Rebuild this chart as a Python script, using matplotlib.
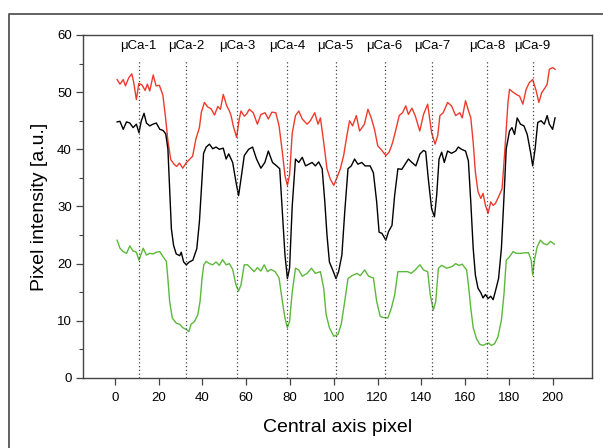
import matplotlib
matplotlib.use('Agg')
from matplotlib import pyplot as plt
from matplotlib.lines import Line2D
from matplotlib.ticker import MultipleLocator

plt.rcParams['font.family'] = ['Liberation Sans', 'DejaVu Sans']

# red (top), black (middle), green (bottom) profiles
red_x = [1, 2.3, 3.8, 4.8, 6.3, 7.7, 8.5, 9.8, 10.9, 12.3, 13.8, 14.8, 15.9, 17.5, 18.8, 20.3,
         21.9, 23.2, 24.2, 25.5, 27, 28.2, 29.5, 31, 32.5, 34, 35.5, 37, 38.6, 39.5, 40.9, 42.4,
         43.9, 45.5, 47, 48.2, 49.5, 51.1, 52.2, 53, 54.2, 55.6, 56.8, 57.6, 59.1, 60.2, 61.4,
         63.2, 65.1, 66.7, 68.6, 70.1, 71.7, 73.5, 75, 76.5, 77.7, 78.8, 79.8, 81, 82.5, 84,
         85.6, 87.8, 89.3, 91.3, 92.8, 93.9, 95.4, 96.9, 98.4, 100, 101.5, 103, 104.5, 106,
         107.2, 108.6, 110.3, 111.8, 114, 115.6, 117.1, 118.6, 120.1, 121.6, 123.8, 125.3,
         126.9, 128.4, 129.9, 131.4, 132.9, 134.1, 135.7, 137.2, 139.3, 141, 142.9, 144.7,
         146.3, 147.5, 148.5, 150, 152, 153.8, 155.7, 157.6, 158.7, 160.2, 161.5, 162.6,
         163.7, 164.7, 165.9, 167.2, 168.2, 169.3, 170.5, 171.7, 172.8, 173.8, 175.3, 176.9,
         178.1, 179.6, 180.3, 181.9, 183.4, 184.9, 186.4, 187.9, 189.4, 190.9, 192.5, 193.7,
         195, 196.6, 197.5, 198.5, 200, 201.1]
red_y = [52.2, 51.4, 52.2, 51.1, 52.5, 53.2, 51.9, 48.7, 51.5, 51.3, 50.3, 51.4, 50.2, 53.0,
         51.1, 51.2, 49.5, 45.3, 41.5, 38.2, 37.4, 37.0, 37.6, 36.7, 37.6, 38.2, 38.8, 41.8,
         43.8, 46.5, 48.2, 47.4, 47.1, 46.0, 47.5, 47.0, 49.6, 47.6, 46.8, 46.0, 43.9, 42.1,
         45.3, 46.7, 45.8, 46.2, 47.0, 46.4, 44.4, 46.1, 46.4, 45.3, 46.5, 46.4, 44.1, 39.5,
         35.4, 33.7, 35.5, 42.8, 45.9, 46.7, 45.3, 44.4, 45.0, 46.4, 44.4, 45.5, 41.2, 36.6,
         34.8, 33.7, 35.1, 36.6, 38.9, 42.4, 45.0, 44.1, 45.9, 43.2, 44.4, 47.0, 45.5, 43.5,
         40.6, 40.0, 38.9, 39.5, 41.2, 43.5, 45.9, 46.4, 47.6, 46.1, 47.2, 45.9, 43.2, 46.1,
         47.9, 42.9, 40.9, 42.4, 45.9, 46.4, 48.2, 47.6, 45.9, 46.4, 45.5, 48.5, 46.8, 45.5,
         41.2, 36.0, 32.6, 31.4, 32.3, 30.2, 28.8, 30.8, 30.2, 30.5, 31.7, 33.1, 39.5, 48.2,
         50.5, 50.0, 49.6, 49.3, 47.9, 50.5, 51.7, 52.2, 50.2, 48.2, 49.9, 50.8, 51.4, 54.0,
         54.3, 54.0]

black_x = [1, 2.3, 3.8, 5.3, 6.8, 8.3, 9.8, 11, 12, 13.3, 14.4, 15.9, 17.4, 18.9, 20.5, 22,
           23.2, 24.2, 25, 25.8, 26.8, 28, 29.6, 30.3, 31.4, 32.6, 34, 35.6, 37.4, 38.6, 39.8,
           40.5, 41.7, 43.2, 44.7, 46.2, 47.7, 49.5, 50.8, 52, 53.8, 55.3, 56.5, 57.6, 59.1,
           61.1, 62.9, 64.7, 66.7, 68.5, 70.1, 72, 74.2, 75.3, 76.5, 77.7, 78.8, 79.8, 81,
           82.5, 84, 85.6, 87.1, 88.6, 90.1, 91.6, 93.1, 94.7, 95.9, 96.9, 98, 99.5, 101,
           102.2, 103.7, 105, 106.5, 108, 109.5, 111, 112.8, 114.3, 116.6, 118.1, 119.6,
           120.7, 122, 123.8, 125, 126.6, 127.8, 129.3, 131.1, 132.6, 134.1, 135.7, 137.5,
           139.4, 141, 142, 143.2, 144.7, 146, 147, 148.1, 149.3, 150.5, 152, 153.8, 155.7,
           156.9, 158.4, 160.2, 161.5, 162.6, 163.7, 164.7, 165.9, 167.2, 168.2, 169.3,
           170.5, 171.7, 172.8, 173.8, 175.3, 176.6, 177.8, 178.8, 180.3, 181.4, 182.6,
           183.8, 185.3, 186.9, 188.4, 189.9, 190.9, 192, 193.2, 194.7, 196.2, 197.5, 198.5,
           200, 201.1]
black_y = [44.8, 44.9, 43.5, 44.8, 44.6, 43.8, 44.4, 42.9, 44.9, 46.3, 44.6, 44.1, 44.4,
           44.6, 43.5, 43.3, 42.7, 40.1, 33.1, 26.1, 23.2, 21.7, 21.4, 22.0, 20.3, 19.8, 20.3,
           20.6, 22.6, 27.3, 34.8, 39.3, 40.4, 40.9, 40.1, 40.4, 40.0, 40.2, 38.3, 39.2, 37.7,
           34.3, 31.9, 34.8, 38.9, 40.0, 40.4, 38.3, 36.7, 37.7, 39.7, 37.7, 37.0, 36.6, 29.0,
           21.5, 17.4, 19.2, 30.0, 38.3, 37.7, 38.6, 37.1, 37.4, 37.7, 37.1, 37.8, 36.6, 30.8,
           25.0, 20.3, 18.9, 17.4, 18.6, 21.5, 29.0, 36.6, 37.1, 38.3, 37.4, 37.7, 37.1, 37.1,
           35.9, 30.8, 25.5, 25.3, 24.1, 25.6, 26.7, 31.9, 36.6, 36.5, 37.4, 38.3, 37.7, 37.1,
           39.2, 39.8, 39.6, 34.8, 29.6, 28.2, 31.9, 38.3, 39.5, 37.7, 39.7, 39.3, 39.7, 40.4,
           40.0, 39.7, 38.0, 30.8, 22.7, 18.0, 15.7, 14.9, 14.0, 14.6, 13.9, 14.3, 13.7, 15.1,
           17.4, 22.7, 31.9, 40.1, 43.2, 43.8, 42.6, 45.5, 44.4, 44.1, 42.6, 39.5, 37.1, 40.1,
           44.7, 45.0, 44.4, 45.9, 44.4, 43.5, 45.5]

green_x = [1, 2.3, 3.8, 5.3, 6.8, 8.3, 9.8, 11, 12.9, 14.4, 15.9, 17.4, 18.9, 20.5, 22,
           23.5, 24.2, 25, 26.2, 28, 29.6, 31, 32.6, 33.8, 34.8, 36.4, 37.9, 38.9, 39.8,
           40.6, 41.7, 43.2, 44.7, 46.2, 47.7, 49.2, 50.8, 52.3, 53.8, 55.3, 56.5, 57.6,
           59.1, 60.6, 62.1, 63.6, 65.1, 66.7, 68.2, 69.7, 71.2, 73.2, 75, 76.5, 77.7, 78.8,
           79.8, 81, 82.5, 84, 85.6, 87.8, 89.8, 91.6, 93.9, 95.4, 96.5, 98, 100, 101.9,
           103.4, 105, 106.5, 108.3, 110.6, 112.1, 114.1, 115.9, 118.1, 119.6, 121.2, 122.3,
           124.7, 126.3, 127.8, 129.3, 131.4, 133.8, 135.3, 137.2, 139.4, 141, 142.9, 144.1,
           145.5, 146.6, 147.8, 149.3, 151.6, 154.1, 155.7, 157.2, 158.7, 160.7, 161.6,
           162.6, 163.7, 165.2, 166.7, 168.2, 169.7, 170.8, 172, 173.5, 175, 176.6, 177.8,
           178.8, 180.3, 181.9, 183.4, 185.3, 187.2, 189, 190.2, 190.9, 191.7, 192.9, 194.4,
           195.9, 197.5, 199, 200.8]
green_y = [24.1, 22.7, 22.1, 21.8, 23.1, 22.2, 22.0, 20.6, 22.7, 21.5, 21.8, 21.7, 22.0,
           22.1, 21.2, 20.4, 17.4, 13.4, 10.5, 9.6, 9.4, 8.8, 8.5, 8.1, 9.4, 9.9, 11.1, 13.4,
           17.4, 19.8, 20.4, 20.0, 19.8, 20.3, 19.7, 20.7, 19.8, 20.0, 19.0, 16.3, 15.2, 16.3,
           19.8, 19.8, 19.2, 18.6, 19.3, 18.7, 19.8, 18.6, 19.0, 18.6, 17.5, 13.4, 10.5, 8.8,
           9.9, 15.0, 19.2, 18.9, 17.8, 18.3, 19.2, 18.3, 18.6, 15.7, 11.1, 8.8, 7.3, 7.6,
           9.4, 13.4, 17.4, 17.9, 18.3, 17.9, 18.9, 17.8, 17.5, 13.4, 10.8, 10.6, 10.5, 12.2,
           14.5, 18.6, 18.6, 18.6, 18.3, 18.9, 19.8, 18.9, 18.6, 14.5, 11.9, 13.4, 19.2, 19.7,
           19.2, 19.5, 20.0, 19.7, 19.9, 18.9, 16.0, 12.2, 8.8, 6.9, 5.9, 5.7, 6.0, 6.1, 5.7,
           6.0, 7.2, 10.1, 14.8, 20.6, 21.2, 22.1, 21.8, 21.8, 21.9, 21.9, 20.6, 18.0, 20.6,
           22.9, 24.1, 23.5, 23.3, 23.9, 23.4]

# positions of the nine microcalcifications
mca_pos = [10.9, 32.7, 55.9, 78.6, 100.9, 123.2, 145, 170, 190.9]
mca_labels = ['μCa-1', 'μCa-2', 'μCa-3', 'μCa-4', 'μCa-5', 'μCa-6', 'μCa-7', 'μCa-8', 'μCa-9']

fig = plt.figure(figsize=(6.03, 4.48), dpi=100)
ax = fig.add_axes([0.1376, 0.1563, 0.8442, 0.7656])

ax.plot(red_x, red_y, color='#ee3a2c', lw=1.0)
ax.plot(black_x, black_y, color='black', lw=1.0)
ax.plot(green_x, green_y, color='#5cb83a', lw=1.0)

for xp, lab in zip(mca_pos, mca_labels):
    ax.plot([xp, xp], [0, 55.6], color='#444444', lw=0.9, ls=(0, (1, 2)))
    ax.text(xp, 58, lab, ha='center', va='center', fontsize=9.5)

ax.set_xlim(-14.6, 218)
ax.set_ylim(0, 60)
ax.set_xticks(range(0, 201, 20))
ax.set_yticks(range(0, 61, 10))
ax.yaxis.set_minor_locator(MultipleLocator(5))
ax.tick_params(axis='both', which='major', direction='out', length=5, width=0.9,
               labelsize=9.5, pad=3, color='#444444')
ax.tick_params(axis='y', which='minor', direction='out', length=3, width=0.8, color='#444444')
ax.tick_params(axis='x', pad=5)
for s in ax.spines.values():
    s.set_color('#444444')
    s.set_linewidth(1.0)

ax.set_xlabel('Central axis pixel', fontsize=14)
ax.xaxis.set_label_coords(0.5, -0.12)
ax.set_ylabel('Pixel intensity [a.u.]', fontsize=14)
ax.yaxis.set_label_coords(-0.068, 0.5)

# outer frame of the figure panel
fig.add_artist(Line2D([8.5 / 603, 8.5 / 603, 1.0], [0, 1 - 14 / 448, 1 - 14 / 448],
                      transform=fig.transFigure, color='#555555', lw=1.3))

fig.savefig('out.png', dpi=100)
